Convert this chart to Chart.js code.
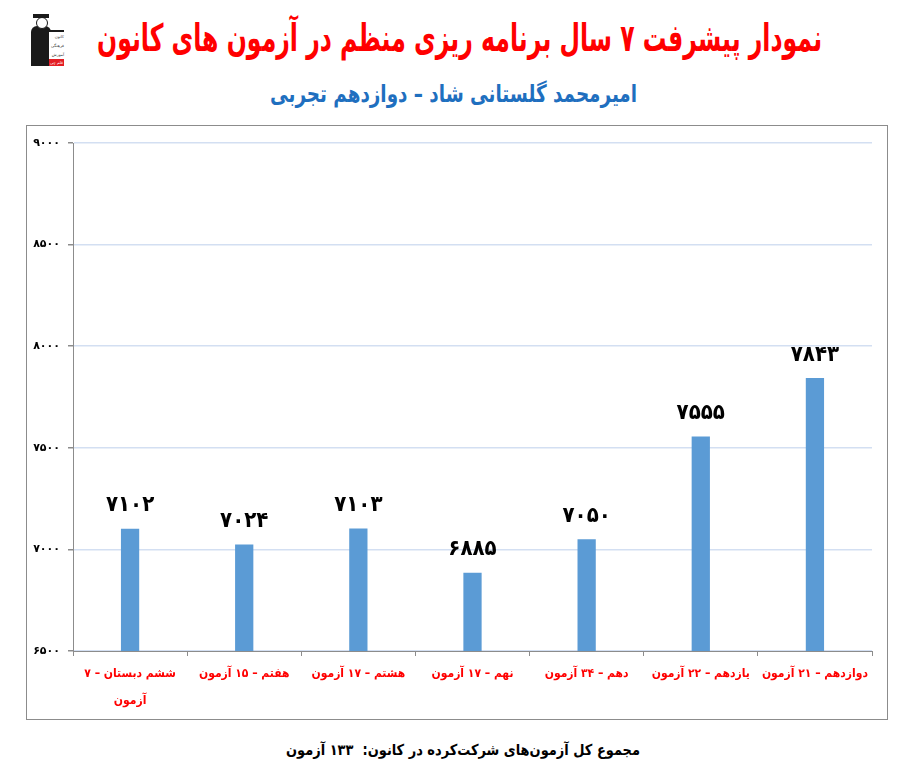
<!DOCTYPE html>
<html lang="fa">
<head>
<meta charset="utf-8">
<script src="https://cdn.jsdelivr.net/npm/chart.js"></script>
<style>
    html, body { margin: 0; padding: 0; background: #fff; }
    body { width: 907px; height: 773px; position: relative; overflow: hidden; font-family: 'DejaVu Sans', sans-serif; }
    .title { position: absolute; text-align: center; font-weight: bold; direction: rtl; white-space: nowrap; transform-origin: 0 0; font-family: 'DejaVu Sans Condensed', 'DejaVu Sans', sans-serif; }
    #mainTitle { top: 16px; font-size: 38px; line-height: 44px; color: #ff0000; }
    #subTitle { top: 79px; font-size: 24px; line-height: 30px; color: #1f6fbf; }
    #footer { top: 739px; font-size: 15px; line-height: 22px; color: #000; }
    #frame { position: absolute; left: 26px; top: 125px; width: 860px; height: 593px; border: 1px solid #8c8c8c; }
    #frame canvas { position: absolute; left: 0; top: 0; }
    #logo { position: absolute; left: 31px; top: 12px; width: 33px; height: 54px; }
    #logo .head { position: absolute; left: 5px; top: 5px; width: 10px; height: 10px; background: #fff; border: 1px solid #1a1a1a; border-radius: 50%; }
    #logo .fig { position: absolute; left: 0; top: 14px; width: 20px; height: 40px; background: #1a1a1a; border-radius: 6px 6px 0 0; }
    #logo .hat { position: absolute; left: 2px; top: 2px; width: 16px; height: 4px; background: #1a1a1a; }
    #logo .box { position: absolute; left: 18px; top: 18px; width: 15px; height: 28px; font-size: 4px; line-height: 9px; text-align: right; direction: rtl; color: #333; background: #fff; border-top: 2px solid #1a1a1a; }
    #logo .red { position: absolute; left: 18px; top: 47px; width: 15px; height: 7px; background: #e31e24; color: #fff; font-size: 4px; line-height: 7px; text-align: center; }
</style>
</head>
<body>
<div id="logo">
    <div class="fig"></div>
    <div class="head"></div>
    <div class="hat"></div>
    <div class="box">کانون<br>فرهنگی<br>آموزش</div>
    <div class="red">قلم چی</div>
</div>
<div class="title" id="mainTitle">نمودار پیشرفت ۷ سال برنامه ریزی منظم در آزمون های کانون</div>
<div class="title" id="subTitle">امیرمحمد گلستانی شاد – دوازدهم تجربی</div>
<div id="frame"><canvas id="progressChart" width="860" height="593"></canvas></div>
<div class="title" id="footer">مجموع کل آزمون‌های شرکت‌کرده در کانون:&nbsp; ۱۳۳ آزمون</div>

<script>
// Chart data
const gradeLabels = [
    ['ششم دبستان – ۷', 'آزمون'],
    'هفتم – ۱۵ آزمون',
    'هشتم – ۱۷ آزمون',
    'نهم – ۱۷ آزمون',
    'دهم – ۳۴ آزمون',
    'یازدهم – ۲۲ آزمون',
    'دوازدهم – ۲۱ آزمون'
];
const levelScores = [7102, 7024, 7103, 6885, 7050, 7555, 7843];
const yMin = 6500;
const yMax = 9000;
const yStep = 500;

const condensed = '"DejaVu Sans Condensed", "DejaVu Sans", sans-serif';

// fit a heading between two x positions
function fitText(id, left, right) {
    const el = document.getElementById(id);
    const w = el.getBoundingClientRect().width;
    el.style.left = left + 'px';
    el.style.transform = 'scaleX(' + ((right - left) / w) + ')';
}
fitText('mainTitle', 97, 822);
fitText('subTitle', 270, 637);
fitText('footer', 286, 640);

// Persian digits for ticks and labels
function toPersianDigits(n) {
    const digits = '۰۱۲۳۴۵۶۷۸۹';
    return String(n).replace(/[0-9]/g, d => digits[+d]);
}

// Draw value labels above each bar
const valueLabels = {
    id: 'valueLabels',
    afterDatasetsDraw(chart) {
        const ctx = chart.ctx;
        const meta = chart.getDatasetMeta(0);
        ctx.save();
        ctx.font = 'bold 22px ' + condensed;
        ctx.fillStyle = '#000';
        ctx.textAlign = 'center';
        ctx.textBaseline = 'bottom';
        meta.data.forEach((bar, i) => {
            ctx.fillText(toPersianDigits(levelScores[i]), bar.x, bar.y - 12);
        });
        ctx.restore();
    }
};

const ctx = document.getElementById('progressChart');
new Chart(ctx, {
    type: 'bar',
    data: {
        labels: gradeLabels,
        datasets: [{
            data: levelScores,
            backgroundColor: '#5b9bd5',
            barPercentage: 0.8,
            categoryPercentage: 0.2
        }]
    },
    options: {
        responsive: false,
        animation: false,
        layout: { padding: { top: 17, right: 15, left: 0, bottom: 0 } },
        plugins: {
            legend: { display: false },
            tooltip: { enabled: false }
        },
        scales: {
            x: {
                afterFit(scale) { scale.height = 68; },
                grid: {
                    drawOnChartArea: false,
                    drawTicks: true,
                    tickLength: 5,
                    tickColor: '#8c8c8c',
                    offset: true
                },
                border: { color: '#8c8c8c', width: 1 },
                ticks: {
                    color: '#ff0000',
                    maxRotation: 0,
                    autoSkip: false,
                    padding: 5,
                    font: { family: condensed, size: 12, weight: 'bold', lineHeight: 2.2 }
                }
            },
            y: {
                min: yMin,
                max: yMax,
                afterFit(scale) { scale.width = 46; },
                grid: {
                    color: '#d3dff2',
                    lineWidth: 1.5,
                    tickLength: 5,
                    tickColor: '#8c8c8c'
                },
                border: { color: '#8c8c8c', width: 1 },
                ticks: {
                    stepSize: yStep,
                    color: '#000',
                    padding: 8,
                    font: { family: 'DejaVu Sans', size: 11, weight: 'bold' },
                    callback: v => toPersianDigits(v)
                }
            }
        }
    },
    plugins: [valueLabels]
});
</script>
</body>
</html>
